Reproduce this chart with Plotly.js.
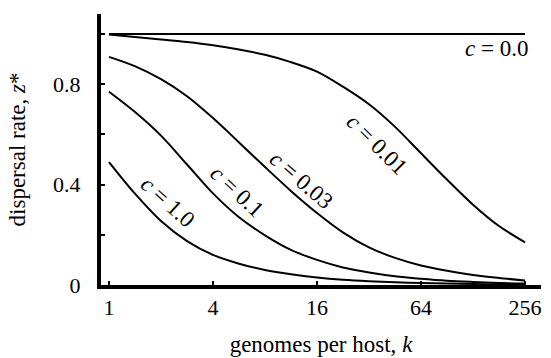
<!DOCTYPE html>
<html>
<head>
<meta charset="utf-8">
<script src="https://cdn.plot.ly/plotly-3.0.1.min.js"></script>
<style>html,body{margin:0;padding:0;background:#fff;}#chart{width:551px;height:358px;}</style>
</head>
<body>
<div id="chart"></div>
<script>
// genomes per host, k
const kValues = [1, 1.41, 2, 2.83, 4, 5.66, 8, 11.3, 16, 22.6, 32, 45.3, 64, 90.5, 128, 181, 256];
// dispersal rate z* for each cost c
const zC000 = [1, 1, 1, 1, 1, 1, 1, 1, 1, 1, 1, 1, 1, 1, 1, 1, 1];
const zC001 = [0.998, 0.988, 0.978, 0.968, 0.955, 0.938, 0.917, 0.888, 0.85, 0.79, 0.72, 0.63, 0.525, 0.42, 0.32, 0.235, 0.17];
const zC003 = [0.909, 0.872, 0.82, 0.752, 0.665, 0.568, 0.47, 0.375, 0.287, 0.21, 0.15, 0.108, 0.078, 0.057, 0.04, 0.028, 0.018];
const zC010 = [0.77, 0.69, 0.595, 0.48, 0.365, 0.27, 0.198, 0.14, 0.1, 0.07, 0.05, 0.035, 0.025, 0.017, 0.012, 0.008, 0.006];
const zC100 = [0.49, 0.365, 0.255, 0.175, 0.12, 0.085, 0.06, 0.043, 0.03, 0.021, 0.015, 0.011, 0.008, 0.006, 0.004, 0.003, 0.002];
const seriesNames = ['c = 0.0', 'c = 0.01', 'c = 0.03', 'c = 0.1', 'c = 1.0'];
const seriesValues = [zC000, zC001, zC003, zC010, zC100];

const xTickVals = [1, 4, 16, 64, 256];
const xTickText = ['1', '4', '16', '64', '256'];
const yTickVals = [0, 0.2, 0.4, 0.6, 0.8, 1.0];
const yTickText = ['0', '', '0.4', '', '0.8', ''];

// curve label placement (k, z, angle)
const labelText = ['<i>c</i> = 0.0', '<i>c</i> = 0.01', '<i>c</i> = 0.03', '<i>c</i> = 0.1', '<i>c</i> = 1.0'];
const labelK = [174, 35.5, 13.1, 5.5, 2.17];
const labelZ = [0.944, 0.558, 0.418, 0.371, 0.331];
const labelAngle = [0, 45, 41, 43, 42];

const FONT = 'Liberation Serif';

const traces = seriesValues.map((vals, i) => ({
  x: kValues,
  y: vals,
  name: seriesNames[i],
  type: 'scatter',
  mode: 'lines',
  line: {color: '#000', width: 2, shape: 'spline', smoothing: 0.9},
  hoverinfo: 'skip'
}));

const annotations = labelText.map((t, i) => ({
  x: Math.log10(labelK[i]),
  y: labelZ[i],
  xref: 'x', yref: 'y',
  text: t,
  showarrow: false,
  textangle: labelAngle[i],
  font: {family: FONT, size: 23, color: '#000'},
  xanchor: 'center', yanchor: 'middle'
}));

const layout = {
  width: 551, height: 358,
  margin: {l: 101, r: 10, t: 14, b: 73, pad: 0},
  paper_bgcolor: '#fff', plot_bgcolor: '#fff',
  showlegend: false,
  font: {family: FONT, size: 22, color: '#000'},
  xaxis: {
    type: 'log',
    range: [-0.0463, 2.5009],
    tickvals: xTickVals, ticktext: xTickText,
    ticks: 'inside', ticklen: 4, tickwidth: 2, tickcolor: '#000',
    showline: true, linewidth: 4, linecolor: '#000',
    showgrid: false, zeroline: false,
    tickfont: {family: FONT, size: 22, color: '#000'},
    title: {text: 'genomes per host, <i>k</i>', font: {family: FONT, size: 23, color: '#000'}, standoff: 17}
  },
  yaxis: {
    range: [0, 1.0797],
    tickvals: yTickVals, ticktext: yTickText,
    ticks: 'inside', ticklen: 4, tickwidth: 2, tickcolor: '#000',
    showline: true, linewidth: 4, linecolor: '#000',
    showgrid: false, zeroline: false,
    ticklabelstandoff: 12,
    tickfont: {family: FONT, size: 22, color: '#000'},
    title: {text: 'dispersal rate, <i>z</i>*', font: {family: FONT, size: 23, color: '#000'}, standoff: 22}
  },
  annotations: annotations
};

Plotly.newPlot('chart', traces, layout, {staticPlot: true, displayModeBar: false});
</script>
</body>
</html>
